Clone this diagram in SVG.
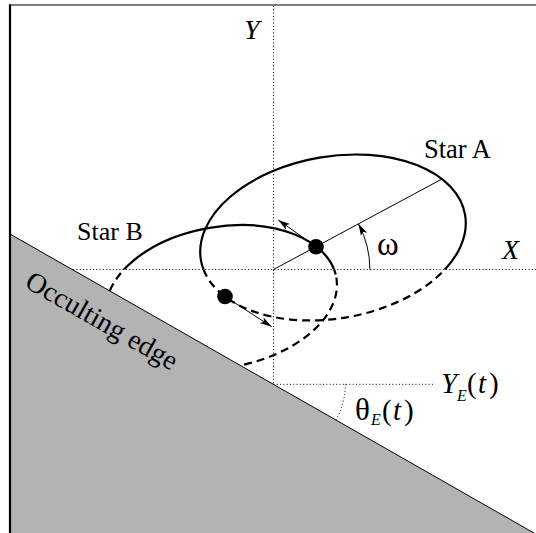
<svg xmlns="http://www.w3.org/2000/svg" width="536" height="533" viewBox="0 0 536 533">
<style>
.txt{font-family:"Liberation Serif","Times New Roman",serif;fill:#000}
.it{font-style:italic}
.dot{fill:none;stroke:#000;stroke-width:1;stroke-dasharray:1 2.3}
.orb{fill:none;stroke:#000;stroke-width:2.2}
.dash{stroke-dasharray:8 5}
.thin{fill:none;stroke:#000;stroke-width:1}
</style>
<defs>
<clipPath id="above" clipPathUnits="userSpaceOnUse"><rect x="0" y="0" width="536" height="269.5"/></clipPath>
<clipPath id="below" clipPathUnits="userSpaceOnUse"><rect x="0" y="269.5" width="536" height="270"/></clipPath>
<marker id="ah" viewBox="0 0 12 8" refX="12" refY="4" markerWidth="12" markerHeight="8" markerUnits="userSpaceOnUse" orient="auto"><path d="M0,0.5 L12,4 L0,7.5 L3,4 z" fill="#000"/></marker>
</defs>
<rect width="536" height="533" fill="#fff"/>
<g id="axes">
<line class="dot" x1="273.5" y1="6" x2="273.5" y2="384"/>
<line class="dot" x1="60" y1="269.5" x2="536" y2="269.5"/>
<line class="dot" x1="273.5" y1="384.3" x2="434" y2="384.3"/>
<path class="dot" d="M345.3,384.3 A72,72 0 0 1 335.8,420"/>
</g>
<g id="orbitA">
<g clip-path="url(#above)"><ellipse class="orb" cx="333" cy="237.5" rx="134" ry="81" transform="rotate(-9.7 333 237.5)"/></g>
<g clip-path="url(#below)"><ellipse class="orb dash" cx="333" cy="237.5" rx="134" ry="81" transform="rotate(-9.7 333 237.5)"/></g>
</g>
<g id="orbitB">
<g clip-path="url(#above)"><ellipse class="orb" cx="221.4" cy="297.3" rx="116.6" ry="70.5" transform="rotate(-9.7 221.4 297.3)"/></g>
<g clip-path="url(#below)"><ellipse class="orb dash" cx="221.4" cy="297.3" rx="116.6" ry="70.5" transform="rotate(-9.7 221.4 297.3)"/></g>
</g>
<g id="connectors">
<line class="thin" x1="273.5" y1="269.5" x2="441.4" y2="179.3"/>
<path class="thin" d="M369.9,269.5 A96.4,96.4 0 0 0 358.4,223.8" marker-end="url(#ah)"/>
<line class="thin" x1="316" y1="246.7" x2="278.3" y2="220" marker-end="url(#ah)"/>
<line class="thin" x1="225" y1="296.5" x2="271.7" y2="326.7" marker-end="url(#ah)"/>
</g>
<g id="starA"><circle cx="316" cy="246.7" r="7.8" fill="#000"/></g>
<g id="starB"><circle cx="225" cy="296.5" r="7.8" fill="#000"/></g>
<g id="edge">
<polygon points="10,234 546,539.9 10,540" fill="#b3b3b3" stroke="none"/>
<line x1="10" y1="234" x2="546" y2="539.9" stroke="#000" stroke-width="1"/>
<text class="txt" font-size="28" transform="translate(23.5,286.5) rotate(29.7)">Occulting edge</text>
</g>
<g id="frame">
<line x1="9" y1="5" x2="536" y2="5" stroke="#555" stroke-width="1.3"/>
<line x1="10" y1="4.5" x2="10" y2="533" stroke="#000" stroke-width="2.2"/>
</g>
<g id="labels">
<text class="txt" x="424" y="158" font-size="26.5">Star A</text>
<text class="txt" x="77" y="240" font-size="26">Star B</text>
<text class="txt it" x="244" y="39" font-size="28">Y</text>
<text class="txt it" x="502" y="259" font-size="28">X</text>
<text class="txt" x="377" y="255" font-size="33">ω</text>
<text class="txt it" x="441" y="393" font-size="29">Y</text>
<text class="txt it" x="457" y="401" font-size="16">E</text>
<text class="txt" x="467" y="393" font-size="29">(</text>
<text class="txt it" x="478" y="393" font-size="29">t</text>
<text class="txt" x="489" y="393" font-size="29">)</text>
<text class="txt" x="355" y="420" font-size="31">θ</text>
<text class="txt it" x="371" y="425" font-size="16">E</text>
<text class="txt" x="382" y="420" font-size="29">(</text>
<text class="txt it" x="393" y="420" font-size="29">t</text>
<text class="txt" x="404" y="420" font-size="29">)</text>
</g>
</svg>
